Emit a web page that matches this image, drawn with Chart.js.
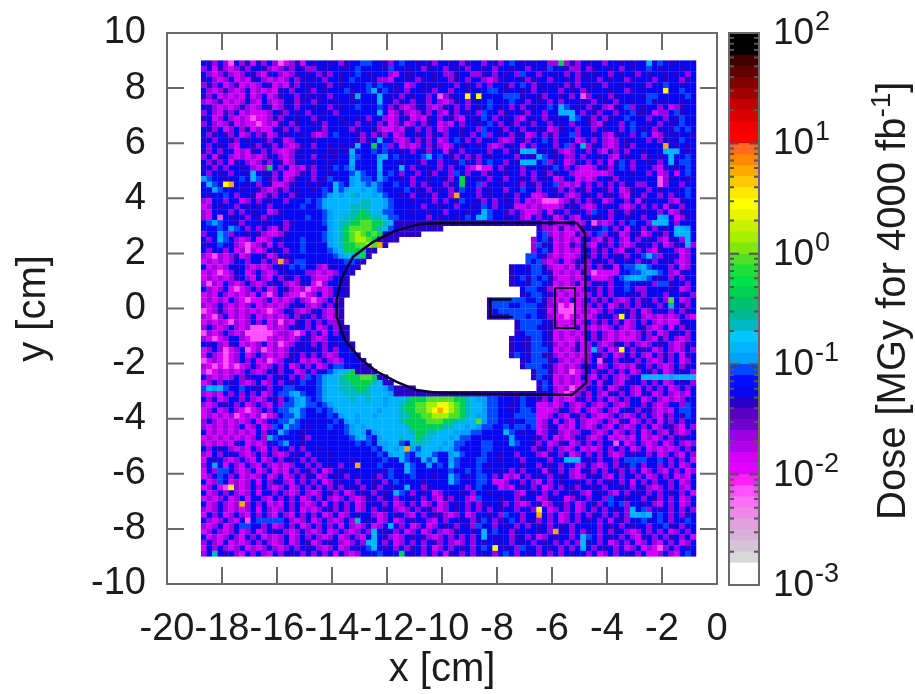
<!DOCTYPE html>
<html>
<head>
<meta charset="utf-8">
<title>Dose map</title>
<script src="https://cdn.jsdelivr.net/npm/chart.js@4"></script>
<style>
  body { margin: 0; background: #fff; }
  canvas { position: absolute; top: 0; filter: blur(0.7px); }
  #map { left: 0; }
  #bar { left: 700px; }
</style>
</head>
<body>
<canvas id="map" width="915" height="694"></canvas>
<canvas id="bar" width="215" height="694"></canvas>
<script>
// axis values
const xTicks = [-20, -18, -16, -14, -12, -10, -8, -6, -4, -2, 0];
const yTicks = [10, 8, 6, 4, 2, 0, -2, -4, -6, -8, -10];
const decades = [2, 1, 0, -1, -2, -3];

// dose (MGy) for each letter used in the grid, '.' is no data
const letterDose = { p: 0.0079, m: 0.0135, v: 0.022, i: 0.04, b: 0.056, a: 0.089, c: 0.11, s: 0.14,
  t: 0.22, g: 0.45, l: 0.89, f: 1.4, y: 2.8, o: 5.6, r: 8.9 };

// colour bands of the palette, bottom to top, 0.1 decade each
const bandColors = ['#ffffff', '#ffffff', '#d8d8d8', '#d4c4d4', '#d8b0d8', '#e0a0dc', '#ec88e8', '#f870f4', '#ff50ff', '#ff20f8',
  '#e000ff', '#d400f8', '#b000ec', '#9c00e0', '#7000d0', '#5800c0', '#2800c8', '#0808f0', '#0010ff', '#0048ff',
  '#00a0ff', '#00b4ff', '#00c8ff', '#00b8c0', '#00b890', '#00c070', '#00d050', '#00e048', '#20e038', '#50e028',
  '#80e810', '#a8f000', '#c8f000', '#e8f400', '#ffff00', '#ffe800', '#ffc800', '#ffa800', '#ff8800', '#ff6820',
  '#ff0000', '#f00000', '#d80000', '#c00000', '#a00000', '#800000', '#600000', '#400000', '#000000', '#000000'];

// 90 x 90 cells of 0.2 cm, first row is the top, groups of ten only for reading
const cellRows = [
  'bivbvpbvim ivbvpmvimb ibbibvibba abbivbabbi bivbbibvib bvbivbabib ibbvvgvivb ibbvbbibib bsbabibbbb',
  'vbmivmvivb bivmvivbiv vbibbbibab bbbiabbibb vibbvbibvb bibvbbibbv bbiabbivvb vibbibvbib babibbbibb',
  'bvmvivmvbi vmibvmvibi bvivbibbab ibbbvmbiib bbibvvibbv vibvbibvab bvbbibvbvi bibbvbibbv bibbibibvb',
  'ibvmvbmvmi bvmvmvbvib ibvbbibabb bivvmbbibv ibibbvibvb bvmvibbbiv ibbvbbibvb ibvbibbvib bbvbibbvib',
  'vivbmvimvm vbimvmivbi bbivbibbbb ababbibmvb bibibbvbib vbvbbivbab vibbibvivb bibvbbibbb ivbbabbibb',
  'bvmvivmvbm vmvmibvbbi vbibbbaibb asbabibvbb ibvbbvbbib bbaabibbib vbibbvbibv ibbbibbvib bbbbybbabb',
  'ivbmvmvmim vbmvibbvbi bibvbbbitb bbsbibvbib bvbpvibbyb ybbbbaaaib bivbbibvbp vbibvibbbb iaabbbbbab',
  'vmvimvmvbv mbvmvbivib vibbibbibb bbsbbvibvb ivbvmvibvi bbabbbabbv bibvbvbbbi bvbibvbbib baibibbibb',
  'bivmvmvivm vbimvibvbb ibbvbibbab bbabvivmvi bvmvibvbvb ibabibvbvb ibbabsabib vibvmibavb ibbvbmvibb',
  'vbvmivbmvm mmvbivbibv bbibvbbbbb bbsbmvivmv ivbvmivbib vabbvibbiv bbvbbsssbv bivbbvbbai ibmvvbaibb',
  'ibmvbvmvmp mmvivbbibb vibbbibbib vbbvmvbimv mibvbivmbi babvbibvmb ibvbibbsab ivbvibbabb bvbbvbiabb',
  'vbvmvimvmm pmvmibvibb ibvbbbibvb ibvimvimvb vibmvmbvbb ibabvbivbi vbbvbibvbb ivmibbvbab bibvbibabb',
  'bivbmvbvim vmmbivbvbb bivbbbbvib bivmmvmibv bvbmvbbibb vabbivbbvb bibmvibbvb bvbibbvbab ibvibiabab',
  'bvibivbmvb vimvbibbib vmvbabbbiv bvivbmvbbi bvibvbbibv bavbibvibm vbvivbbavb bibvmibbvb abmvibibbi',
  'ibvbbivbib bivbimvbbb ibbbbbbbiv ibsbbvmvbv ivbmvbabvb vbbbvmvbiv bbabvbbbmv bvbvmvbibb bvbvbibabb',
  'bvbibvmbbi vbivbvmvib vbbibibisb bgbavbmvmv bvivmvbibb ibvmvbibmb vbbbvbavbt vibvmvbivb bbbbobibib',
  'ivbvbbmvmi bvbvmmvibb ibbiibisbb bababbibvb ivbbmibvbb bbvbbvbiss sbibivmvbb vbvmivbvbb ibbbsssbib',
  'vbmibvmvmv mvibvmvbib vbibibbcab bbcsbabbbb asbabivbvi vbibbbbvbb isabibvvbv bbibvmbibb vibibsbbab',
  'bvivbmibvm vivbimvibb ibbibbbsbb bbsbbbibbi vbbvbbiaib vbabbvbiss sbavibmvib vbvbmiabvb bibvbsbaab',
  'ibvbvbbibv mvgbvbmvmi vbibabacbb bbsbbbsbvb bibvbvbbvm pmmbvibbvb bbibabvbvm mvbivbabvb bbvmibibab',
  'bvbibvbbis bibvbmmvib vbbibbbasa bbcbabvbbv bivbbvabvb bvibbibbvb vbivibbvmm mmmmvbbbib bvbmvbmbab',
  'cabbibbabs abivbmvibb vbiabbbcsa abcabbibvb bibbivbgbb ibvbbvbbib vbibmvbbmv mvbbivbbbb bbbpvibbib',
  'bsabyobbib vbimmvibbi bibbsabcsc acabbabbvb vibbvibgbb avbbibbivb ivbbavmvmb vbvbvbvibv vbbpvbbvbb',
  'bbcabbbibb ivmvivbibb ibabsacssc scabbbbabi bvbibvbabb vbibbvbbab bvbbivbvbi vbbivbmvib bvbibbibab',
  'bibbabvbbi mvivbbvibb bbacscstcs scsabbibvb ibvbbvobbb vbibbibvbb mmvbibvmvb ibvbibvmib vbbvbvbbab',
  'vmbbvbbmvb vbibbvbbba bacsssssst tsscabbbib bbvbvbiabb ivbvbibvbm vmpppmvivb vibmvbbvbm ibbbbvmibb',
  'mvbibbvbib ibvbbbbbab bacssssttt tsscabbbbb vbbibbvbbi babvbbimmv mvmmmvbibv mvbibbvmvb vbvbmibvbb',
  'vmbbbvbvbi bbmvibbbbb bbacsssttg tssaabbbib bibbvbbbib bsabbivbvm mvbmibvbib vabbvibvib ibbvbmvibb',
  'vmbpbibbvb ivibbbbbba bbacssttgg gttsaabbbb bvbibbibab ssabbibivm bvbimvbvmb ibibvbbibb vbbscbmvib',
  'bacabbivbb bibbbvibbb bbacsttggl lggtsiiiii iiiiiiiiii iiiibiiiii iivivmvimv bpvmvbvbab bvsssbvbbb',
  'bbbabcabvb vbvmivbbbb bbbcstglll lgtsabiiii iiii...... .......... .ivvmimvmi bibabvbmib vbvbibsscb',
  'vbbcavbbib ivmmvibbbb bbacstglfl glgiiiiiii .......... .......... .bavmvmmiv vbavbimvbi mvbivbsssb',
  'bvbsabvmvb mmvbibbbab bbacstglff lgiiii.... .......... .......... vbaimvmvmi bvmivbvmbv bibvmibvsb',
  'ibbabbvmpm vimbvbbbab bbbcstggll floi...... .......... .......... vaibmvmivb vmbivbvmvb ibvbmvibsv',
  'bvbbvbmvpv mvbibvbbab bbbacsgggg ii........ .......... .......... vbaimvmvmi bvivbvmibv bvmibbvmvb',
  'vmpvmvimvb bimvbibbbb bbbbacsstg i......... .......... .........a abivmvmmvb ivbvbibvbb asavbibmvb',
  'mvmvmvbbvb bvbvoviaab bbbbbbaabi .......... .......... .........a bavmvbmvib vbibvbbibv ibvbibvmvb',
  'bmvmvbibvm vmvbibabab bvmibbbbi. .......... .......... ......ibbi aaivmmvmiv vbvibmbaac sabbbvbmvb',
  'mvmpmvbbmv bvmvbibbbv vmvmvbbi.. .......... .......... ......ibbb aabimvmvmi vpmmmmbbaa cscabvmibb',
  'mvmvmvibvm bvmbvibvbb vmmvbbi... .......... .......... ......ibai abaivmmvmv bmmmvbacss cabibvbvbb',
  'vpvmbvmvbv mvbibvmvib mpvbbbi... .......... .......... ......ibbi aabimvmvim vbibvbbabb ibvaaibbvb',
  'bvmvbmpmvb vbmvbivmvp mvmvbbi... .......... .......... ........ba abivmvmmmv bivbvbbabv vbbbbibmvb',
  'mvmbvmvmvm bmpvbvmmpm vbmvbbi... .......... .......... ........ib aabivmvmvm vbvbvbbbib vbbbvbbibv',
  'mvmvmbvmpm mvbmvmvbvm pmvbvi.... .......... .......... ..iaaaaaab baivmvmimv bvivbvmvbv ibvbvlbmvb',
  'vmvbvmvmvb mvmvmvbibv mvbvbi.... .......... .......... ..iaaabbaa abivvpmpmv vbvbmvivbv bibvbtbivb',
  'pmvivmvmvm vmpmvbivmv ibvmvi.... .......... .......... ..ibaaaaaa abimvpppmv vmvbvbbivb mvbibvbvib',
  'vmpvbmvmvb mvmvmvbvib vbvmvi.... .......... .......... ..iiiiaaab abivmmpmvm mvbibvybvi vmvmvmvbvm',
  'mvmvmpvmvb vbmvpvmibv bvbvvi.... .......... .......... .......iaa aabivmmvmv bvivbvbmvb vbvmvmmibb',
  'vbvmvbvmvp ppmvmvbibv bmvbvbi... .......... .......... .......iaa abiivmvmim vmvmvbvmvb ivmvbmbvib',
  'pvmvbvmvpp pppmvvmpmb vbmbvbi... .......... .......... .......iba aabimvmvmv bvbvmvmvmv ivbmvbibvb',
  'vmpmvbbvmp ppmvmvmvbi vmvbbbi... .......... .......... ......ibbi aabimvmmvm bvivmvmmmv bvmivbvmvb',
  'bibvmibmvm vbmvpmvbib vbvbibbi.. .......... .......... ......ibii aabivmvmim vbvmvibvbv mvbibvmvib',
  'mvbvpmvbpm vpmvmvbibb ibvbvbbi.. .......... .......... ......ibbi aaabmvmvim vsvbmvybvb ibmvbvmvbv',
  'mbvmpmvbmv bvmvmvibvb vbvmvbbbi. .......... .......... ......iabi aaiivmvmvm vbivbmvbvb vmbvivbmib',
  'pmvmpmvbvb mvpmvbibmv mvbvmvbbbi .......... .......... ........ib aaaibvmvmv vbpibvbibv bvmvbvbmvb',
  'vmpmpmpmvb vmvbvbmvbv bmvbaabbbi i......... .......... ........ia aabivmvmvb ibmvbvmvmi bvbvmvbvib',
  'mpmvmvmvbv mvbivbbmvb vbbacstgii ii........ .......... .......... iaaivmvpmv bvibvbvbmv bivbmvbibv',
  'bvmvmvbvib bbvbibvbva bacsstgggl lgii...... .......... .......... iabimvmvmb vmbvbvmvbb ssssscssss',
  'mvbvbibvmv bmvbvbibab bacssttggg gtsii..... .......... .......... .iabmvmvmv vbmibvmbib vbvbmvbibv',
  'ascsabbabb ibvbbaabbb bacsstttgg tsscaiiii. .......... .......... .iabvmvpmv ibvbmvibvm bvbvbmvbvb',
  'vmvmbvbvbv bmvbaacsab bacssstttt tsssciiiii iiiiiiiiii iiiiiiiiii iiibvmpmvi vbvmibvbvm ibmvbvmvmb',
  'bvbmvbbvbv mvbivbacsa bacsssstss tsscssstgg glllllggts ccaabbbiab bivbmvmmib vbvbmvbvbb mvbvmvmvbb',
  'vmvbibvbmv bvmbvaacsa abacssssss ssscsstggl lffyyflgts scaabbibab bmmvmvbvmv bvmvbvmvbb vbvmvbbvab',
  'mvbmvbvmpm vbvbaacsab babacsssss sscssstggl lfyoyflgts scaabbibaa bmmmvibvmb vmvbvmbibv bivmvmbaab',
  'mvmvmvpmvm vpmvbaasab bbbabcsscs scssssttgg llfffllgts ccaabbbaaa ammvbvmbiv bvmmvbvmvb vbvmivbiab',
  'vbvmvmvmvb mvbbaasabb bbbbabcscs sssssstggg glllggttss lcaabbibba amvbmbvmbv mmvbvmibmv bvbmivbvbb',
  'vmvmvmvbmv bmvabsaabi bbbabbacsc ssssssstgg ggggttsscs caabbabaab amvibmvmbv mvbvmbvmvb vbmvbivmbv',
  'bmvmvmvmvm bvbbsabbib bbbbbbacsc bcsssssstg gttsssccca abbbbsabib bmvbivmvvb bvmvbmvbvb mvbvmivmvb',
  'mvmvmvmvmv bvtabbbbiv bbbbbbbacs abcssstssg ttssscsaab bbbbbbcbbb ibvbmvmvbi vmvbmvmvmb mvmvbvbibb',
  'vmvmvmibmv mvbbacbbib bbbbbbbbab abccssabtt tssscsaabb baabbbcabb ivbmvibmvb vbvbbpbmvb vmvbmvbvmv',
  'bvbibvmvmb vmbvbbvbvb bibbbbbbbb babcscsoca ssscscabbb baabbbbbbb vibvbvmvbm vmvbvbvbmv bmvmvmvbvb',
  'vmbvbibvmv bvbvmvbibv bbbibbbbbb bbabcssabc ssabbcsabb babbibbvbb bvmibvbmvb vbvbvmvbib bvbmvbvmbv',
  'mbibvmvbvm bmvbvbibvb vbbbbbbibb bbbabbsabb sasbbcabbb aabbibbbvb bbbvbbsssb ibvbbvbaaa abbabvbvbm',
  'vbcbmbvmbv mbvmvmvbbv bvbibvbbob bbabbbbsab bcbabsabbb abibbbbbib bvbibvbbmv bvmvbvbiab vbbvbvbmvb',
  'mbvaabvmvb mvbmvmbvbi vbmvbibbbb bbbiabbsab bbbbbabbab abbbibvbvb bbmibvbvmb ivbvbivbvb mvbvmbvbmv',
  'mvbabvbmvm vbmvbmvbvi bmvbibvbib bivbabbbab bbibbsabib aabvbmvmbv bibvbibvmv bibvmbvbbv bmvbvbmvmb',
  'bmvabmvmvb mbvibvmbvb vbmvbibbvb bibvbabbbb ibbbbsabbb aabmmvbbvb vmbvbibbib vbvbibvbmb vbvbbvbmvb',
  'mvbmpyvmvb vbvmvbmvbv bvbvivbibv bivbibbsbb vibbbbbbvb abbbmvmbib vbmvbvbivb bibvbbibvb ivmvbvbvmb',
  'bmvbvbvmvb mbbvbvmvbv mvbivbmvbi bvbibsabvb ibmvbbbibv bbibbbbvmb ibvbvbbibv mbibvmbvbi bvbvbibvbm',
  'mvmvbmvbmb bvmbvbvbmv bvbvmvbvmv ibvibvbbib vbvmivbbvm abbbibbvib bmvibbmvib vbbvabbibb vbivbvbmvb',
  'bmvbvmvovb vbmvmbvbvm vbmbvbvbmv bibvbmvbvb mvbmvbibvb vibbivbvmv bimvbivbmv bivbabavbb ibvmbvbmvb',
  'vmvbvmvmvb mbvmvbvbmv mvbivbvbmv bvbibvmvbv bivmvbibvb vbvbibbvbb vybmvbvbmv bvbvbibvsb avbibvbvbv',
  'mbvbmvbvmb vbvmbvmbvb vbmvbmvbib bvmvbibvmb vbiivmvbmv bbibvabbvb bobvbmvbvb vibvbvbvss csbabvbvib',
  'bvmvbvmbpb aaaaabvmvb mvbvmvbvtb ibmvbmvbib bvmbvbbibv iabvibabvb ivbvbmvbvb ibvbmbivbb abbabvbbab',
  'vmvbmvbaab bvbmvbvbmv bvbvbmbvmv bmvbsbvbmv bmvbibvbiv abbvbibvbv bibvbibvbb bbvbibvbib bvbbaibvbb',
  'mvbvmvbmvb mvbibvmvbv mvbmvbvmvb vsbibvbmvb mvbvmvibbi bsbabbvibb bibvoibvbv ibvbvibvmv bvbvbmvbvb',
  'bmvmvbvmbv bmvmvbmvbv bvmvbmvbvm bsbivmvbib ivmvbvbvbv bsbibbvibv bmvbibbvbs abvbibvbvm ibvbvibvbm',
  'vbvmbmvmvb vbvmvbmvbi mvbibvmvbv ssbvbmvbvb vbivbvmvbv bibbibvbib vbibvbvbvs ibvbmvbvbm vbvmbvbmvb',
  'mbvbvmvbmv mvbvmvbvbi bvmvbmvbib asbibvbvib vbmvbvbibv babybibvab bvbibvbvbs bvbibvbmvb mvmpvbvbib',
  'vbtbibvmbv bvmbvbibvb vbvbmbvmvb bbabbbgbib vbvbmibvbv bibvbabvbi bvbvbvbibb vbmvbvbibv bmmvbvmbab'
];

// detector outline, cm
const outlineX = [-5.10, -4.80, -4.76, -5.28, -10.07, -10.92, -11.65, -12.37, -12.98, -13.53, -13.83, -13.83, -13.65, -13.23, -12.50, -11.77, -10.80, -10.19, -5.10];
const outlineY = [3.11, 2.73, -2.70, -3.14, -3.08, -2.96, -2.66, -2.29, -1.81, -1.14, -0.30, 0.31, 1.10, 1.88, 2.42, 2.79, 3.07, 3.09, 3.11];
const insertX = [-5.89, -5.16, -5.16, -5.89, -5.89];
const insertY = [0.74, 0.74, -0.71, -0.71, 0.74];
const armX = [-7.47, -8.25, -8.25, -7.42];
const armY = [0.33, 0.33, -0.31, -0.31];

const fieldLeft = -18.76;
const fieldTop = 9;
const cellSize = 0.2;
const textColor = '#1c1c1c';
const fontName = '"Liberation Sans", Arial, sans-serif';

function bandOf(dose) {
  return bandColors[Math.floor((Math.log10(dose) + 3) * 10)];
}

const cellPoints = [];
const cellColors = [];
cellRows.forEach((row, r) => {
  row.replace(/ /g, '').split('').forEach((letter, c) => {
    if (letter === '.') return;
    cellPoints.push({ x: fieldLeft + cellSize * (c + 0.5), y: fieldTop - cellSize * (r + 0.5) });
    cellColors.push(bandOf(letterDose[letter]));
  });
});

function linePoints(xs, ys) {
  return xs.map((x, i) => ({ x: x, y: ys[i] }));
}

function lineDataset(xs, ys, width) {
  return { data: linePoints(xs, ys), showLine: true, pointRadius: 0, borderColor: '#0c0030', borderWidth: width, order: 1 };
}

// gnuplot style: frame plus ticks pointing in on all four sides
const frameTicks = {
  id: 'frameTicks',
  afterDatasetsDraw(chart) {
    const ctx = chart.ctx;
    const a = chart.chartArea;
    const len = 17;
    ctx.save();
    ctx.strokeStyle = '#6a6a6a';
    ctx.lineWidth = 2;
    ctx.strokeRect(a.left, a.top, a.right - a.left, a.bottom - a.top);
    ctx.beginPath();
    xTicks.forEach(v => {
      const px = chart.scales.x.getPixelForValue(v);
      ctx.moveTo(px, a.top); ctx.lineTo(px, a.top + len);
      ctx.moveTo(px, a.bottom); ctx.lineTo(px, a.bottom - len);
    });
    yTicks.forEach(v => {
      const py = chart.scales.y.getPixelForValue(v);
      ctx.moveTo(a.left, py); ctx.lineTo(a.left + len, py);
      ctx.moveTo(a.right, py); ctx.lineTo(a.right - len, py);
    });
    ctx.stroke();
    ctx.restore();
  }
};

new Chart(document.getElementById('map'), {
  type: 'scatter',
  data: {
    datasets: [
      lineDataset(outlineX, outlineY, 2.5),
      lineDataset(insertX, insertY, 2),
      lineDataset(armX, armY, 2.5),
      { data: cellPoints, pointStyle: 'rect', pointRadius: 4.1, pointBorderWidth: 0,
        pointBackgroundColor: cellColors, order: 2 }
    ]
  },
  options: {
    responsive: false,
    animation: false,
    layout: { padding: { top: 33, right: 198 } },
    plugins: { legend: { display: false }, tooltip: { enabled: false } },
    scales: {
      x: {
        min: -20, max: 0,
        afterFit: s => { s.height = 110; s.paddingLeft = 0; s.paddingRight = 0; },
        afterBuildTicks: s => { s.ticks = xTicks.map(v => ({ value: v })); },
        grid: { display: false },
        border: { display: false },
        ticks: { color: textColor, font: { family: fontName, size: 38 }, padding: 15, maxRotation: 0, autoSkip: false },
        title: { display: true, text: 'x [cm]', color: textColor, font: { family: fontName, size: 40 }, padding: { top: 0, bottom: 0 } }
      },
      y: {
        min: -10, max: 10,
        afterFit: s => { s.width = 167; s.paddingTop = 0; s.paddingBottom = 0; },
        afterBuildTicks: s => { s.ticks = yTicks.map(v => ({ value: v })); },
        grid: { display: false },
        border: { display: false },
        ticks: { color: textColor, font: { family: fontName, size: 38 }, padding: 13, autoSkip: false },
        title: { display: true, text: 'y [cm]', color: textColor, font: { family: fontName, size: 40 }, padding: { top: 10, bottom: 0 } }
      }
    }
  },
  plugins: [frameTicks]
});

// colour key
const barDatasets = bandColors.map((color, i) => ({
  data: [[Math.pow(10, -3 + i / 10), Math.pow(10, -3 + (i + 1) / 10)]],
  backgroundColor: color,
  borderWidth: 0,
  grouped: false,
  barPercentage: 1,
  categoryPercentage: 1
}));

const keyDecor = {
  id: 'keyDecor',
  afterDatasetsDraw(chart) {
    const ctx = chart.ctx;
    const a = chart.chartArea;
    const scale = chart.scales.y;
    ctx.save();
    ctx.strokeStyle = '#555';
    ctx.lineWidth = 2;
    ctx.beginPath();
    decades.forEach(d => {
      const py = scale.getPixelForValue(Math.pow(10, d));
      ctx.moveTo(a.left, py); ctx.lineTo(a.left + 10, py);
      ctx.moveTo(a.right, py); ctx.lineTo(a.right - 10, py);
      if (d === -3) return;
      for (let m = 2; m < 10; m++) {
        const my = scale.getPixelForValue(m * Math.pow(10, d - 1));
        ctx.moveTo(a.left, my); ctx.lineTo(a.left + 5, my);
        ctx.moveTo(a.right, my); ctx.lineTo(a.right - 5, my);
      }
    });
    ctx.stroke();
    ctx.strokeStyle = '#6a6a6a';
    ctx.strokeRect(a.left, a.top, a.right - a.left, a.bottom - a.top);

    ctx.fillStyle = textColor;
    ctx.textBaseline = 'alphabetic';
    decades.forEach(d => {
      const py = scale.getPixelForValue(Math.pow(10, d));
      ctx.font = '37px ' + fontName;
      ctx.fillText('10', 73, py + 11);
      ctx.font = '27px ' + fontName;
      ctx.fillText(String(d), 115, py - 3);
    });

    ctx.translate(205, 520);
    ctx.rotate(-Math.PI / 2);
    ctx.font = '40px ' + fontName;
    const head = 'Dose [MGy for 4000 fb';
    ctx.fillText(head, 0, 0);
    let at = ctx.measureText(head).width;
    ctx.font = '28px ' + fontName;
    ctx.fillText('-1', at, -15);
    at += ctx.measureText('-1').width;
    ctx.font = '40px ' + fontName;
    ctx.fillText(']', at, 0);
    ctx.restore();
  }
};

new Chart(document.getElementById('bar'), {
  type: 'bar',
  data: { labels: [''], datasets: barDatasets },
  options: {
    responsive: false,
    animation: false,
    layout: { padding: { left: 29, right: 156, top: 33, bottom: 109 } },
    plugins: { legend: { display: false }, tooltip: { enabled: false } },
    scales: {
      x: { display: false },
      y: { type: 'logarithmic', display: false, min: 0.001, max: 100 }
    }
  },
  plugins: [keyDecor]
});
</script>
</body>
</html>
